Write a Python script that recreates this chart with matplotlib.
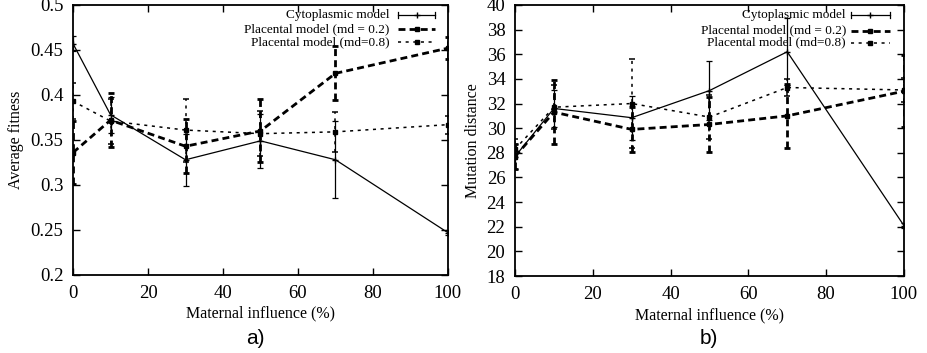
import matplotlib
matplotlib.use("Agg")
import matplotlib.pyplot as plt

plt.rcParams['font.family'] = ['Liberation Serif', 'DejaVu Serif']

# maternal influence (%)
influence = [0, 10, 30, 50, 70, 100]

# a) average fitness
fit_cyto = [0.457, 0.378, 0.328, 0.349, 0.328, 0.247]
fit_cyto_err = [0.008, 0.02, 0.029, 0.03, 0.043, 0.003]
fit_p02 = [0.336, 0.372, 0.343, 0.360, 0.424, 0.452]
fit_p02_err = [0.035, 0.03, 0.03, 0.035, 0.03, 0.012]
fit_p08 = [0.393, 0.371, 0.361, 0.357, 0.359, 0.367]
fit_p08_err = [0.02, 0.025, 0.035, 0.025, 0.022, 0.01]

# b) mutation distance
dist_cyto = [27.7, 31.6, 30.85, 33.05, 36.2, 22.1]
dist_cyto_err = [1.0, 1.5, 1.8, 2.4, 2.7, 0.2]
dist_p02 = [27.7, 31.3, 29.9, 30.3, 31.0, 33.0]
dist_p02_err = [1.0, 2.6, 1.8, 2.2, 2.6, 2.9]
dist_p08 = [28.3, 31.7, 32.0, 30.9, 33.3, 33.1]
dist_p08_err = [0.8, 1.8, 3.6, 1.8, 0.7, 1.0]

labels = ['Cytoplasmic model', 'Placental model (md = 0.2)', 'Placental model (md=0.8)']
styles = [
    dict(lw=0.9, marker='+', ms=4, dash=None),
    dict(lw=2.0, marker='s', ms=3, dash=(2.5, 1.5)),
    dict(lw=1.1, marker='s', ms=3, dash=(2, 3)),
]


def draw_series(ax, y, err, st):
    kw = dict(color='black', lw=st['lw'], marker=st['marker'], ms=st['ms'],
              capsize=2.5, elinewidth=st['lw'], capthick=st['lw'])
    eb = ax.errorbar(influence, y, yerr=err, **kw)
    if st['dash'] is not None:
        eb[0].set_dashes(st['dash'])
        for c in eb[2]:
            c.set_linestyle((0, st['dash']))


def draw_key(ax, tx, x0, x1, ys):
    # gnuplot style key: text on the left, sample on the right
    for lab, st, yy in zip(labels, styles, ys):
        ax.text(tx, yy, lab, transform=ax.transAxes, ha='right', va='center', fontsize=9.5)
        ln, = ax.plot([x0, x1], [yy, yy], transform=ax.transAxes, color='black',
                      lw=st['lw'], clip_on=False)
        if st['dash'] is not None:
            ln.set_dashes(st['dash'])
        ax.plot([(x0 + x1) / 2], [yy], transform=ax.transAxes, color='black',
                marker=st['marker'], ms=st['ms'], clip_on=False)
        if st['dash'] is None:
            ax.plot([x0, x0], [yy - 0.012, yy + 0.012], transform=ax.transAxes, color='black', lw=0.9)
            ax.plot([x1, x1], [yy - 0.012, yy + 0.012], transform=ax.transAxes, color='black', lw=0.9)


def style_axes(ax):
    ax.set_xlim(0, 100)
    ax.set_xticks([0, 20, 40, 60, 80, 100])
    ax.tick_params(direction='in', top=True, right=True, length=5, width=1, labelsize=13.5)
    ax.tick_params(axis='y', pad=7)
    ax.tick_params(axis='x', pad=7)
    for s in ax.spines.values():
        s.set_linewidth(1.3)
    ax.set_xlabel('Maternal influence (%)', fontsize=11.5, labelpad=3)


fig = plt.figure(figsize=(9.28, 3.53), dpi=100)

ax1 = fig.add_axes([0.0787, 0.221, 0.404, 0.765])
draw_series(ax1, fit_cyto, fit_cyto_err, styles[0])
draw_series(ax1, fit_p02, fit_p02_err, styles[1])
draw_series(ax1, fit_p08, fit_p08_err, styles[2])
style_axes(ax1)
ax1.set_ylim(0.2, 0.5)
ax1.set_yticks([0.2, 0.25, 0.3, 0.35, 0.4, 0.45, 0.5])
ax1.set_yticklabels(['0.2', '0.25', '0.3', '0.35', '0.4', '0.45', '0.5'])
ax1.set_ylabel('Average fitness', fontsize=11.5)
ax1.yaxis.set_label_coords(-0.131, 0.5)
draw_key(ax1, 0.845, 0.868, 0.965, [0.963, 0.911, 0.863])

ax2 = fig.add_axes([0.555, 0.218, 0.419, 0.768])
draw_series(ax2, dist_cyto, dist_cyto_err, styles[0])
draw_series(ax2, dist_p02, dist_p02_err, styles[1])
draw_series(ax2, dist_p08, dist_p08_err, styles[2])
style_axes(ax2)
ax2.set_ylim(18, 40)
ax2.set_yticks(range(18, 41, 2))
ax2.set_ylabel('Mutation distance', fontsize=11.5)
ax2.yaxis.set_label_coords(-0.087, 0.5)
draw_key(ax2, 0.851, 0.864, 0.964, [0.963, 0.905, 0.861])

fig.text(255 / 928, 1 - 338 / 353, 'a)', ha='center', va='center', fontsize=15, family='Liberation Sans')
fig.text(709 / 928, 1 - 338 / 353, 'b)', ha='center', va='center', fontsize=15, family='Liberation Sans')

fig.savefig('out.png', dpi=100)
